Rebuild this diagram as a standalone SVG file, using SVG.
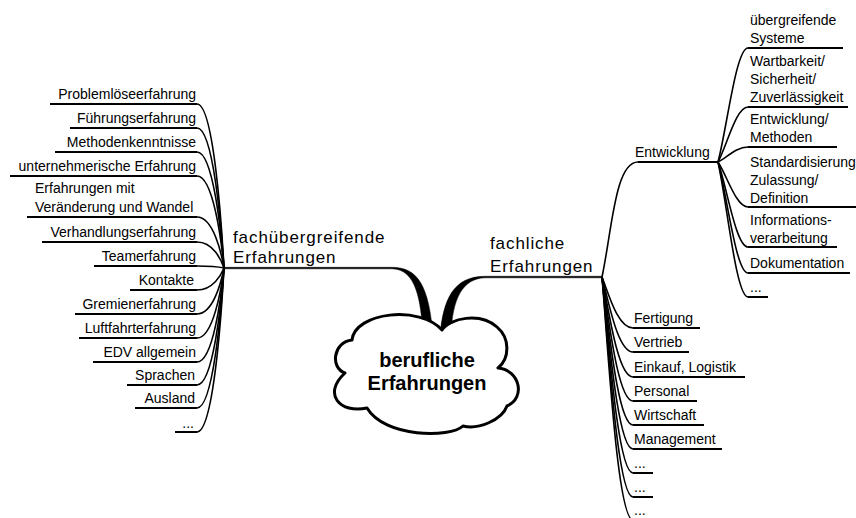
<svg xmlns="http://www.w3.org/2000/svg" width="856" height="518" viewBox="0 0 856 518">
<style>
text{font-family:"Liberation Sans",Arial,sans-serif;fill:#000}
.t{font-size:14px}
.l{text-anchor:end}
.m{font-size:17px;letter-spacing:0.9px}
.ctr{font-size:20px;font-weight:bold;text-anchor:middle}
.u{fill:none;stroke:#000;stroke-width:2}
.c{fill:none;stroke:#000;stroke-width:1.6}
.f{fill:#000;stroke:#000;stroke-width:0.5}
.cloud{fill:#fff;stroke:#000;stroke-width:3;stroke-linejoin:round}
</style>
<rect width="856" height="518" fill="#fff"/>
<g id="connectors">
<path class="f" d="M224 267.3 L392 267.3 C418 267.3 429 286 433 336 L423 336 C421 300 416 269 392 268.8 L224 268.8 Z"/>
<path class="f" d="M440 336 C443 300 453 276.3 485 276.3 L602 276.3 L602 277.8 L485 277.8 C463 278.5 452 298 451 336 Z"/>
<path class="c" d="M224 268 C221.3 218.8 213.2 104 197 104"/>
<path class="c" d="M224 268 C221.3 226 213.2 128 197 128"/>
<path class="c" d="M224 268 C221.3 233.2 213.2 152 197 152"/>
<path class="c" d="M224 268 C221.3 240.4 213.2 176 197 176"/>
<path class="c" d="M224 268 C221.3 252.7 213.2 217 197 217"/>
<path class="c" d="M224 268 C221.3 260.2 213.2 242 197 242"/>
<path class="c" d="M224 268 C221.3 267.4 213.2 266 197 266"/>
<path class="c" d="M224 268 C221.3 274.6 213.2 290 197 290"/>
<path class="c" d="M224 268 C221.3 281.8 213.2 314 197 314"/>
<path class="c" d="M224 268 C221.3 289 213.2 338 197 338"/>
<path class="c" d="M224 268 C221.3 296.2 213.2 362 197 362"/>
<path class="c" d="M224 268 C221.3 303.1 213.2 385 197 385"/>
<path class="c" d="M224 268 C221.3 310 213.2 408 197 408"/>
<path class="c" d="M224 268 C221.3 317.2 213.2 432 197 432"/>
<path class="c" d="M602 277 C612 230 615 162 638 162"/>
<path class="c" d="M602 277 C608.2 292.3 617.5 328 633 328"/>
<path class="c" d="M602 277 C608.2 299.5 617.5 352 633 352"/>
<path class="c" d="M602 277 C608.2 307 617.5 377 633 377"/>
<path class="c" d="M602 277 C608.2 314.2 617.5 401 633 401"/>
<path class="c" d="M602 277 C608.2 321.4 617.5 425 633 425"/>
<path class="c" d="M602 277 C608.2 328.6 617.5 449 633 449"/>
<path class="c" d="M602 277 C608.2 335.8 617.5 473 633 473"/>
<path class="c" d="M602 277 C608.2 343 617.5 497 633 497"/>
<path class="c" d="M602 277 C608.2 349.9 617.5 520 633 520"/>
<path class="c" d="M718 162 C727 127.8 736 48 748 48"/>
<path class="c" d="M718 162 C727 145.5 736 107 748 107"/>
<path class="c" d="M718 162 C727 157.5 736 147 748 147"/>
<path class="c" d="M718 162 C727 175.5 736 207 748 207"/>
<path class="c" d="M718 162 C727 187.5 736 247 748 247"/>
<path class="c" d="M718 162 C727 195.3 736 273 748 273"/>
<path class="c" d="M718 162 C727 202.5 736 297 748 297"/>
</g>
<g id="center">
<path class="cloud" d="M442 330 C450 318 480 312 497 327 C510 338 510 358 498 368 C520 370 526 398 507 406 C502 420 478 430 463 426 C450 438 385 438 367 408 C340 414 322 394 345 373 C330 368 333 342 352 340 C355 312 420 305 442 330 Z"/>
<text class="ctr" x="427" y="367">berufliche</text>
<text class="ctr" x="427" y="390">Erfahrungen</text>
</g>
<g id="fachuebergreifend">
<text class="m" x="233" y="243">fachübergreifende</text>
<text class="m" x="233" y="263">Erfahrungen</text>
</g>
<g id="fachlich">
<text class="m" x="490" y="249">fachliche</text>
<text class="m" x="490" y="272">Erfahrungen</text>
</g>
<g id="l1"><path class="u" d="M50 104 H197"/><text class="t l" x="196" y="99">Problemlöseerfahrung</text></g>
<g id="l2"><path class="u" d="M70 128 H197"/><text class="t l" x="196" y="123">Führungserfahrung</text></g>
<g id="l3"><path class="u" d="M55 152 H197"/><text class="t l" x="196" y="147">Methodenkenntnisse</text></g>
<g id="l4"><path class="u" d="M10 176 H197"/><text class="t l" x="196" y="171">unternehmerische Erfahrung</text></g>
<g id="l5"><path class="u" d="M27 217 H197"/><text class="t" x="35" y="193">Erfahrungen mit</text><text class="t" x="35" y="212">Veränderung und Wandel</text></g>
<g id="l6"><path class="u" d="M42 242 H197"/><text class="t l" x="196" y="237">Verhandlungserfahrung</text></g>
<g id="l7"><path class="u" d="M94 266 H197"/><text class="t l" x="196" y="261">Teamerfahrung</text></g>
<g id="l8"><path class="u" d="M130 290 H197"/><text class="t l" x="194" y="285">Kontakte</text></g>
<g id="l9"><path class="u" d="M75 314 H197"/><text class="t l" x="196" y="309">Gremienerfahrung</text></g>
<g id="l10"><path class="u" d="M79 338 H197"/><text class="t l" x="196" y="333">Luftfahrterfahrung</text></g>
<g id="l11"><path class="u" d="M93 362 H197"/><text class="t l" x="196" y="357">EDV allgemein</text></g>
<g id="l12"><path class="u" d="M127 385 H197"/><text class="t l" x="195" y="380">Sprachen</text></g>
<g id="l13"><path class="u" d="M135 408 H197"/><text class="t l" x="195" y="403">Ausland</text></g>
<g id="l14"><path class="u" d="M175 432 H197"/><text class="t l" x="194" y="428">...</text></g>
<g id="entwicklung"><path class="u" d="M638 162 H718"/><text class="t" x="635" y="157">Entwicklung</text></g>
<g id="e1"><path class="u" d="M748 48 H843"/><text class="t" x="750" y="25">übergreifende</text><text class="t" x="750" y="43">Systeme</text></g>
<g id="e2"><path class="u" d="M748 107 H848"/><text class="t" x="750" y="66">Wartbarkeit/</text><text class="t" x="750" y="84">Sicherheit/</text><text class="t" x="750" y="102">Zuverlässigkeit</text></g>
<g id="e3"><path class="u" d="M748 147 H837"/><text class="t" x="750" y="124">Entwicklung/</text><text class="t" x="750" y="142">Methoden</text></g>
<g id="e4"><path class="u" d="M748 207 H856"/><text class="t" x="750" y="167">Standardisierung</text><text class="t" x="750" y="185">Zulassung/</text><text class="t" x="750" y="203">Definition</text></g>
<g id="e5"><path class="u" d="M748 247 H837"/><text class="t" x="750" y="225">Informations-</text><text class="t" x="750" y="243">verarbeitung</text></g>
<g id="e6"><path class="u" d="M748 273 H850"/><text class="t" x="750" y="268">Dokumentation</text></g>
<g id="e7"><path class="u" d="M748 297 H768"/><text class="t" x="750" y="292">...</text></g>
<g id="r1"><path class="u" d="M633 328 H700"/><text class="t" x="634" y="323">Fertigung</text></g>
<g id="r2"><path class="u" d="M633 352 H689"/><text class="t" x="634" y="347">Vertrieb</text></g>
<g id="r3"><path class="u" d="M633 377 H745"/><text class="t" x="634" y="372">Einkauf, Logistik</text></g>
<g id="r4"><path class="u" d="M633 401 H697"/><text class="t" x="634" y="396">Personal</text></g>
<g id="r5"><path class="u" d="M633 425 H704"/><text class="t" x="634" y="420">Wirtschaft</text></g>
<g id="r6"><path class="u" d="M633 449 H722"/><text class="t" x="634" y="444">Management</text></g>
<g id="r7"><path class="u" d="M633 473 H653"/><text class="t" x="634" y="468">...</text></g>
<g id="r8"><path class="u" d="M633 497 H653"/><text class="t" x="634" y="492">...</text></g>
<g id="r9"><path class="u" d="M633 520 H653"/><text class="t" x="634" y="515">...</text></g>
</svg>
